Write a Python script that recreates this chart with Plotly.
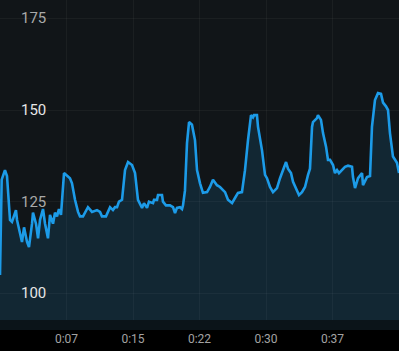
import plotly.graph_objects as go

# elapsed time in minutes
minutes = [0.00, 0.19, 0.56, 0.79, 1.13, 1.35, 1.80, 1.92, 2.48, 2.71, 3.05, 3.27, 3.61, 3.72,
           4.06, 4.29, 4.51, 4.85, 5.08, 5.41, 5.64, 5.98, 6.20, 6.43, 6.65, 6.88, 7.22, 7.56,
           7.89, 8.12, 8.46, 8.80, 9.02, 9.36, 9.70, 9.92, 10.38, 10.94, 11.28, 11.50, 11.95,
           12.18, 12.41, 12.74, 12.97, 13.20, 13.42, 13.76, 14.10, 14.44, 14.89, 15.23, 15.56,
           16.02, 16.24, 16.58, 16.80, 17.26, 17.37, 17.71, 17.82, 18.27, 18.38, 18.72, 19.17,
           19.51, 19.74, 19.96, 20.30, 20.53, 20.64, 20.86, 21.09, 21.32, 21.65, 21.99, 22.22,
           22.56, 22.89, 23.35, 23.68, 24.02, 24.47, 24.81, 25.38, 25.71, 26.17, 26.50, 26.84,
           27.29, 27.63, 27.97, 28.31, 28.53, 28.65, 28.98, 29.10, 29.55, 29.89, 30.11, 30.45,
           30.79, 31.24, 31.58, 31.80, 32.26, 32.48, 32.82, 33.05, 33.50, 33.72, 34.06, 34.40,
           34.74, 34.96, 35.19, 35.30, 35.75, 35.86, 36.20, 36.43, 36.77, 36.99, 37.22, 37.56,
           37.78, 38.01, 38.23, 38.57, 38.91, 39.25, 39.70, 39.81, 40.04, 40.38, 40.83, 40.94,
           41.39, 41.73, 41.95, 42.29, 42.63, 42.97, 43.20, 43.53, 43.76, 43.98, 44.32, 44.77,
           45.00]

# heart rate (bpm)
bpm = [105, 131, 133.6, 132, 120, 119.5, 122.7, 120, 114, 118, 114, 112.6, 119, 122,
       119, 115, 120, 123, 119, 115, 121.4, 119, 122, 121, 123, 121.4, 132.8, 132,
       131.4, 130, 125.5, 122.2, 121, 121, 122.7, 123.5, 122.2, 122.7, 122.2, 121, 121,
       122.2, 123.5, 122.7, 123.5, 123.5, 125, 125.5, 133.6, 135.8, 135, 132.8, 125.5,
       123.3, 124.6, 123.3, 125, 124.6, 125.5, 125.5, 126.8, 126.8, 125, 124, 124,
       123.5, 121.9, 123.3, 123.5, 123, 124, 128, 141, 146.7, 146, 141.8, 133.6,
       130, 127.4, 127.6, 129, 131, 129.5, 129, 127.6, 125.5, 124.6, 126, 127.4,
       127.6, 133.6, 141.8, 148.6, 148, 148.6, 148.6, 145.4, 139, 132.3, 131.4, 129,
       127.6, 128.7, 131.4, 133, 135.8, 134, 132.8, 130.4, 128.2, 126.8, 127.6, 129,
       132.3, 134, 145.4, 146.7, 147.8, 148.6, 147.3, 143.7, 140, 136.4, 136.4, 135,
       132.8, 133.6, 132.8, 133.6, 134.5, 134.8, 134.5, 131.7, 128.7, 131.4, 132.8, 129.5,
       131.7, 132, 145.4, 152.7, 154.6, 154.4, 152, 151, 150, 143.7, 137.3, 135.6,
       132.8]

x_tick_vals = [7.5, 15, 22.5, 30, 37.5]
x_tick_text = ["0:07", "0:15", "0:22", "0:30", "0:37"]
y_tick_vals = [100, 125, 150, 175]
y_tick_text = ["100", "125", "150", "175"]
y_tick_colors = ["#e6e6e6", "#a9a9a9", "#e6e6e6", "#a9a9a9"]

LINE = "#1c9be8"

fig = go.Figure()
fig.add_trace(go.Scatter(
    x=minutes, y=bpm, mode="lines",
    line=dict(color=LINE, width=2.6),
    fill="tozeroy", fillcolor="rgba(28,155,232,0.135)",
    hoverinfo="skip", showlegend=False,
))

for v, t, c in zip(y_tick_vals, y_tick_text, y_tick_colors):
    fig.add_annotation(
        x=0.121, xref="paper", y=v, yref="y", text=t, showarrow=False,
        xanchor="right", yanchor="middle",
        font=dict(family="Roboto", size=15, color=c),
    )

# darker band at the bottom of the plot area
fig.add_shape(type="rect", xref="paper", yref="paper", x0=0, x1=1, y0=0, y1=10 / 330,
              fillcolor="#0b1419", line=dict(width=0), layer="above")

fig.update_layout(
    width=399, height=351,
    margin=dict(l=0, r=0, t=0, b=21, pad=0),
    paper_bgcolor="#000000",
    plot_bgcolor="#111518",
    font=dict(family="Roboto"),
    xaxis=dict(
        range=[0, 45], tickvals=x_tick_vals, ticktext=x_tick_text,
        showgrid=True, gridcolor="rgba(255,255,255,0.045)", gridwidth=1,
        zeroline=False, showline=False, ticks="",
        tickfont=dict(family="Roboto", size=12, color="#a3a3a3"),
        fixedrange=True,
    ),
    yaxis=dict(
        range=[90, 180], tickvals=y_tick_vals, showticklabels=False,
        showgrid=True, gridcolor="rgba(255,255,255,0.045)", gridwidth=1,
        zeroline=False, showline=False, ticks="",
        fixedrange=True,
    ),
)

fig.write_html("out.html")
